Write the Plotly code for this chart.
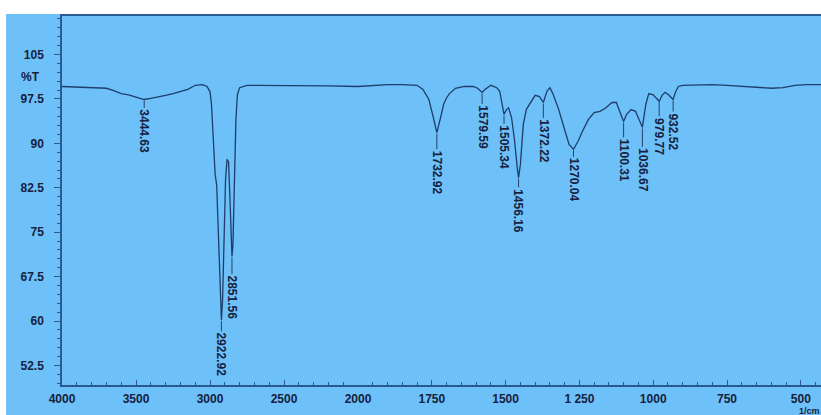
import plotly.graph_objects as go

# ---------------- data ----------------
wavenumber = [4000, 3900, 3800, 3700, 3650, 3600, 3550, 3500, 3444.63, 3400, 3350, 3300, 3250,
              3200, 3150, 3100, 3050, 3020, 3000, 2990, 2980, 2965, 2955, 2940, 2930, 2922.92,
              2915, 2905, 2895, 2885, 2875, 2865, 2851.56, 2845, 2835, 2825, 2815, 2800, 2750,
              2600, 2400, 2200, 2000,
              1900, 1850, 1800, 1780, 1760, 1745, 1732.92, 1720, 1710, 1700, 1690, 1670, 1640,
              1610, 1595, 1579.59, 1570, 1550, 1530, 1520, 1512, 1505.34, 1497, 1490, 1480,
              1470, 1460, 1456.16, 1450, 1440, 1430, 1415, 1400, 1385, 1372.22, 1360, 1350,
              1340, 1320, 1300, 1285, 1270.04, 1255, 1240, 1220, 1200, 1180, 1160, 1140, 1125,
              1115, 1100.31, 1090, 1075, 1060, 1045, 1036.67, 1025, 1015, 1000, 990, 979.77,
              970, 960, 950, 940, 932.52, 925, 915, 900, 850, 800, 750, 700, 650, 600, 560,
              520, 480, 430]
transmittance = [99.6, 99.5, 99.4, 99.3, 98.9, 98.4, 98.2, 97.8, 97.4, 97.6, 97.8, 98.1, 98.4,
                 98.8, 99.1, 99.8, 99.9, 99.6, 98.7, 96.6, 92.3, 84.7, 83.0, 73.7, 65.3, 60.2,
                 63.6, 73.8, 83.9, 87.3, 86.9, 80.5, 70.9, 72.9, 83.9, 94.0, 98.2, 99.4, 99.8,
                 99.8, 99.7, 99.7, 99.6,
                 99.9, 99.9, 99.8, 99.1, 97.4, 94.4, 91.8, 94.4, 96.6, 97.7, 98.4, 99.3, 99.6,
                 99.6, 99.3, 98.6, 99.1, 99.8, 99.4, 98.8, 96.6, 94.9, 95.7, 96.0, 94.4,
                 90.6, 85.6, 84.2, 86.4, 93.2, 95.7, 96.9, 98.1, 97.9, 96.9, 98.8, 99.4,
                 98.4, 95.7, 92.3, 89.8, 89.0, 90.3, 92.0, 94.0, 95.2, 95.4, 96.0, 96.9, 96.9,
                 95.7, 93.7, 94.9, 95.7, 95.4, 93.7, 92.7, 96.6, 98.4, 98.2, 97.7, 97.1,
                 98.1, 98.6, 98.3, 97.7, 97.4, 98.6, 99.6, 99.8, 99.9, 99.9, 99.8, 99.6, 99.4,
                 99.3, 99.4, 99.8, 99.9, 99.9]

peak_wn = [3444.63, 2922.92, 2851.56, 1732.92, 1579.59, 1505.34, 1456.16, 1372.22,
           1270.04, 1100.31, 1036.67, 979.77, 932.52]
peak_t = [97.4, 60.2, 70.9, 91.8, 98.6, 94.9, 84.2, 96.9, 89.0, 93.7, 92.7, 97.1, 97.4]
peak_labels = ["3444.63", "2922.92", "2851.56", "1732.92", "1579.59", "1505.34", "1456.16",
               "1372.22", "1270.04", "1100.31", "1036.67", "979.77", "932.52"]

x_ticks_high = [4000, 3500, 3000, 2500]
x_ticks_low = [2000, 1750, 1500, 1250, 1000, 750, 500]
x_tick_text_low = ["2000", "1750", "1500", "1 250", "1000", "750", "500"]
y_ticks = [52.5, 60, 67.5, 75, 82.5, 90, 97.5, 105]
y_tick_text = ["52.5", "60", "67.5", "75", "82.5", "90", "97.5", "105"]

# ---------------- style ----------------
BG = "#6EC0F8"
LINE = "#1f3d6b"
AX = "#2b5a92"
TXT = "#15213d"
SPLIT = 0.39
label_offsets = [32, 35, 41, 40, 35, 33, 33, 39, 31, 39, 43, 35, 32]
FONT = "Liberation Sans, Arial, sans-serif"

hi_x = [w for w in wavenumber if w >= 2000]
hi_y = [t for w, t in zip(wavenumber, transmittance) if w >= 2000]
lo_x = [w for w in wavenumber if w <= 2000]
lo_y = [t for w, t in zip(wavenumber, transmittance) if w <= 2000]

fig = go.Figure()
fig.add_trace(go.Scatter(x=hi_x, y=hi_y, mode="lines", xaxis="x", yaxis="y",
                         line=dict(color=LINE, width=1.3), showlegend=False))
fig.add_trace(go.Scatter(x=lo_x, y=lo_y, mode="lines", xaxis="x2", yaxis="y",
                         line=dict(color=LINE, width=1.3), showlegend=False))

tickfont = dict(family=FONT, size=12, color=TXT, weight="bold")

annotations = []
for w, t, lab, off in zip(peak_wn, peak_t, peak_labels, label_offsets):
    annotations.append(dict(
        x=w, y=t, xref="x" if w >= 2000 else "x2", yref="y",
        text=lab, textangle=90, showarrow=True, arrowhead=0, arrowwidth=0.8,
        arrowcolor=TXT, ax=0, ay=off, standoff=1,
        font=dict(family=FONT, size=12, color=TXT, weight="bold"),
        xanchor="center", yanchor="middle"))

annotations.append(dict(x=-0.026, y=0.835, xref="paper", yref="paper", text="%T",
                        showarrow=False, xanchor="right", yanchor="middle", font=tickfont))
annotations.append(dict(x=0.968, y=-0.07, xref="paper", yref="paper", text="1/cm",
                        showarrow=False, xanchor="left", yanchor="middle",
                        font=dict(family=FONT, size=9, color=TXT, weight="bold")))

shapes = [
    dict(type="rect", xref="paper", yref="paper", x0=-0.1, x1=1.1, y0=1.0054, y1=1.06,
         fillcolor="white", line=dict(width=0), layer="above"),
    dict(type="rect", xref="paper", yref="paper", x0=-0.1, x1=-0.0738, y0=-0.2, y1=1.06,
         fillcolor="white", line=dict(width=0), layer="above"),
]

fig.update_layout(
    width=821, height=415,
    margin=dict(l=62, r=0, t=16, b=30),
    paper_bgcolor=BG, plot_bgcolor=BG,
    showlegend=False,
    xaxis=dict(domain=[0, SPLIT], range=[4000, 2000], tickvals=x_ticks_high,
               ticktext=[str(v) for v in x_ticks_high], ticks="inside", ticklen=5,
               tickcolor=AX, showgrid=False, zeroline=False, showline=True,
               linecolor=AX, linewidth=1.5, mirror=True, tickfont=tickfont,
               ticklabelstandoff=2,
               minor=dict(dtick=100, ticks="inside", ticklen=3, tickcolor=AX, showgrid=False),
               anchor="y"),
    xaxis2=dict(domain=[SPLIT, 1], range=[2000, 431.6], tickvals=x_ticks_low,
                ticktext=x_tick_text_low, ticks="inside", ticklen=5,
                tickcolor=AX, showgrid=False, zeroline=False, showline=True,
                linecolor=AX, linewidth=1.5, mirror=True, tickfont=tickfont,
                ticklabelstandoff=2,
                minor=dict(dtick=50, ticks="inside", ticklen=3, tickcolor=AX, showgrid=False),
                anchor="y"),
    yaxis=dict(range=[49.2, 111.5], tickvals=y_ticks, ticktext=y_tick_text,
               ticks="outside", ticklen=6, tickcolor=AX, showgrid=False, zeroline=False,
               showline=True, linecolor=AX, linewidth=1.5, tickfont=tickfont,
               ticklabelstandoff=8,
               minor=dict(dtick=1.5, ticks="outside", ticklen=3, tickcolor=AX, showgrid=False)),
    annotations=annotations,
    shapes=shapes,
)

fig.write_html("out.html",
               config={"displayModeBar": False},
               post_script="document.body.style.margin='0';document.body.style.padding='0';"
                           "document.body.style.overflow='hidden';")
